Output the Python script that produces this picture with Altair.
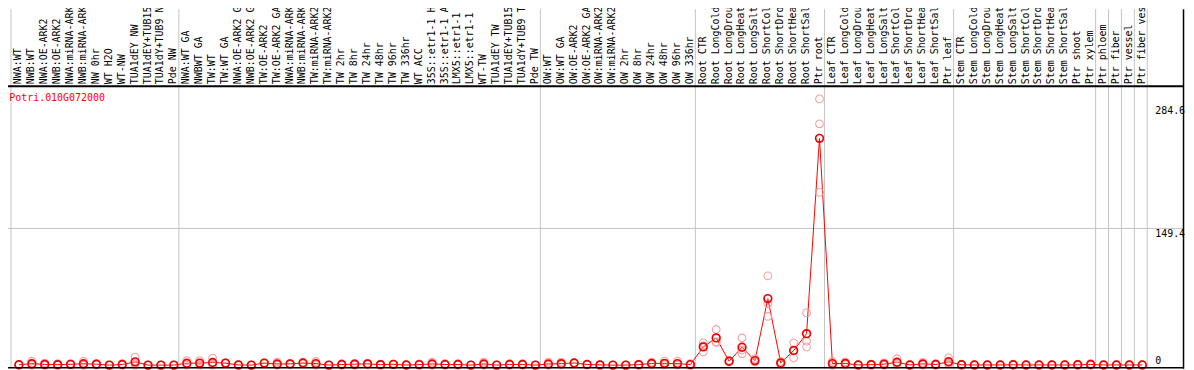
import altair as alt
import pandas as pd

gene = "Potri.010G072000"

labels = [
    "NWA:WT", "NWB:WT", "NWA:OE-ARK2", "NWB:OE-ARK2", "NWA:miRNA-ARK2", "NWB:miRNA-ARK2",
    "NW 0hr", "WT H2O", "WT-NW", "TUA1dEY NW", "TUA1dEY+TUB15 NW", "TUA1dY+TUB9 NW", "Pde NW",
    "NWA:WT GA", "NWBWT GA", "TW:WT", "TW:WT GA", "NWA:OE-ARK2 GA", "NWB:OE-ARK2 GA",
    "TW:OE-ARK2", "TW:OE-ARK2 GA", "NWA:miRNA-ARK2", "NWB:miRNA-ARK2", "TW:miRNA-ARK2",
    "TW:miRNA-ARK2", "TW 2hr", "TW 8hr", "TW 24hr", "TW 48hr", "TW 96hr", "TW 336hr", "WT ACC",
    "35S::etr1-1 H2O", "35S::etr1-1 ACC", "LMX5::etr1-1 H2O", "LMX5::etr1-1 ACC", "WT-TW",
    "TUA1dEY TW", "TUA1dEY+TUB15 TW", "TUA1dY+TUB9 TW", "Pde TW",
    "OW:WT", "OW:WT GA", "OW:OE-ARK2", "OW:OE-ARK2 GA", "OW:miRNA-ARK2", "OW:miRNA-ARK2",
    "OW 2hr", "OW 8hr", "OW 24hr", "OW 48hr", "OW 96hr", "OW 336hr",
    "Root CTR", "Root LongCold", "Root LongDrought", "Root LongHeat", "Root LongSalt",
    "Root ShortCold", "Root ShortDrought", "Root ShortHeat", "Root ShortSalt", "Ptr root",
    "Leaf CTR", "Leaf LongCold", "Leaf LongDrought", "Leaf LongHeat", "Leaf LongSalt",
    "Leaf ShortCold", "Leaf ShortDrought", "Leaf ShortHeat", "Leaf ShortSalt", "Ptr leaf",
    "Stem CTR", "Stem LongCold", "Stem LongDrought", "Stem LongHeat", "Stem LongSalt",
    "Stem ShortCold", "Stem ShortDrought", "Stem ShortHeat", "Stem ShortSalt", "Ptr shoot",
    "Ptr xylem", "Ptr phloem", "Ptr fiber", "Ptr vessel", "Ptr fiber vessel",
]

group_sizes = [13, 28, 12, 10, 10, 11, 1, 1, 1, 1]

rep1 = [
    0.7, 4.3, 2.2, 1.5, 1.5, 4.3, 1.5, 0.0, 1.5, 8.7, 0.0, 0.0, 0.0,
    5.0, 5.0, 7.6, 2.5, 0.5, 0.0, 2.5, 3.3, 1.5, 3.3, 4.0, 0.0, 1.5, 2.0,
    1.5, 1.0, 1.0, 0.3, 1.4, 3.3, 1.5, 1.5, 0.0, 3.3, 0.0, 1.5, 1.5, 0.0,
    3.3, 3.3, 2.5, 1.0, 0.5, 0.0, 0.0, 1.0, 3.3, 4.3, 4.3, 1.5,
    24.3, 38.9, 5.0, 29.7, 7.1, 97.6, 4.0, 24.3, 57.1, 291.0,
    4.0, 3.5, 0.5, 1.0, 2.5, 7.0, 0.5, 3.0, 1.5, 8.0,
    1.0, 0.5, 0.5, 0.5, 1.0, 0.5, 0.5, 0.5, 0.5, 1.0, 1.5,
    0.5, 0.5, 0.5, 0.5,
]
rep2 = [
    0.3, 0.5, 0.0, 0.0, 0.5, 0.0, 1.0, 0.0, 0.5, 2.0, 0.0, 0.0, 0.0,
    1.0, 1.5, 1.0, 2.0, 0.0, 0.0, 2.0, 0.5, 1.5, 2.0, 1.0, 0.0, 0.5, 1.0,
    1.5, 0.5, 1.0, 0.0, 0.3, 0.5, 0.5, 0.5, 0.0, 0.5, 0.0, 0.5, 0.5, 0.0,
    0.5, 1.0, 2.5, 0.5, 0.2, 0.0, 0.0, 0.5, 1.5, 1.0, 0.5, 0.2,
    21.0, 24.8, 4.0, 16.5, 4.0, 67.3, 2.4, 15.5, 26.1, 263.8,
    1.0, 1.5, 0.0, 0.5, 0.5, 2.0, 0.0, 1.0, 0.5, 2.0,
    0.0, 0.0, 0.0, 0.0, 0.0, 0.0, 0.0, 0.0, 0.0, 0.0, 0.5,
    0.0, 0.0, 0.0, 0.0,
]
rep3 = [
    0.0, 0.0, 0.0, 0.0, 0.5, 0.0, 0.5, 0.0, 0.0, 0.0, 0.0, 0.0, 0.0,
    0.0, 0.0, 0.0, 2.0, 0.0, 0.0, 2.0, 0.0, 1.0, 1.5, 0.0, 0.0, 0.0, 0.0,
    1.0, 0.0, 0.5, 0.0, 0.0, 0.0, 0.0, 0.0, 0.0, 0.0, 0.0, 0.0, 0.0, 0.0,
    0.0, 0.5, 2.0, 0.5, 0.0, 0.0, 0.0, 0.0, 0.5, 0.5, 0.2, 0.0,
    14.4, 25.4, 3.6, 12.3, 3.6, 53.2, 0.8, 7.9, 19.9, 188.9,
    0.0, 0.5, 0.0, 0.0, 0.0, 0.5, 0.0, 0.0, 0.0, 1.0,
    0.0, 0.0, 0.0, 0.0, 0.0, 0.0, 0.0, 0.0, 0.0, 0.0, 0.0,
    0.0, 0.0, 0.0, 0.0,
]

y_tick_values = [284.6, 149.4]
y_zero_value = [0]
grid_values = [149.4]

# ---- build tables ----
n = len(labels)
rows = []
for i in range(n):
    for r in (rep1, rep2, rep3):
        rows.append({"idx": i, "val": r[i]})
reps = pd.DataFrame(rows)
lab_df = pd.DataFrame({"idx": list(range(n)), "label": labels})

bounds = [0]
for s in group_sizes:
    bounds.append(bounds[-1] + s)
line_off = 8.0 / 13.0
bound_df = pd.DataFrame({"b": [b - line_off for b in bounds]})

W, H = 1186, 362
x_scale = alt.Scale(domain=[-11.0 / 13.0, 1175.0 / 13.0], nice=False, zero=False)
y_scale = alt.Scale(domain=[-4.02, 389.03], nice=False, zero=False)

X = alt.X("idx:Q", scale=x_scale, axis=None)
RED = "#ff0000"
PINK = "#f29a9a"
GRAY = "#c4c4c4"
FONT = "DejaVu Sans Mono"

base = alt.Chart(reps)

vlines = alt.Chart(bound_df).mark_rule(color=GRAY, strokeWidth=1).encode(
    x=alt.X("b:Q", scale=x_scale, axis=None),
    y=alt.value(0), y2=alt.value(H),
)

grid = alt.Chart(pd.DataFrame({"g": grid_values})).mark_rule(color=GRAY, strokeWidth=1).encode(
    y=alt.Y("g:Q", scale=y_scale, axis=None),
    x=alt.value(0), x2=alt.value(1183),
)

mean_line = base.mark_line(color=RED, strokeWidth=1).encode(
    x=X, y=alt.Y("mean(val):Q", scale=y_scale, axis=None)
)

rep_pts = base.mark_point(shape="circle", filled=False, size=60, strokeWidth=1.1,
                          color=PINK, opacity=0.9).encode(
    x=X, y=alt.Y("val:Q", scale=y_scale, axis=None)
)

mean_pts = base.mark_point(shape="circle", filled=False, size=60, strokeWidth=1.7,
                           color="#f00000", opacity=1).encode(
    x=X, y=alt.Y("mean(val):Q", scale=y_scale, axis=None)
)

col_labels = alt.Chart(lab_df).mark_text(
    angle=270, align="left", baseline="alphabetic", font=FONT, fontSize=10,
    color="black", dy=2.5,
).encode(x=X, y=alt.value(75.5), text="label:N")

gene_text = alt.Chart(pd.DataFrame({"t": [gene]})).mark_text(
    align="left", baseline="alphabetic", font=FONT, fontSize=10, color=RED,
).encode(x=alt.value(1.3), y=alt.value(92.7), text="t:N")

tick_text = alt.Chart(pd.DataFrame({"v": y_tick_values})).mark_text(
    align="left", baseline="top", font=FONT, fontSize=10, color="black", dy=1,
).encode(x=alt.value(1155), y=alt.Y("v:Q", scale=y_scale, axis=None),
         text=alt.Text("v:Q", format=".1f"))

zero_text = alt.Chart(pd.DataFrame({"v": y_zero_value})).mark_text(
    align="left", baseline="alphabetic", font=FONT, fontSize=10, color="black", dy=-0.8,
).encode(x=alt.value(1155), y=alt.Y("v:Q", scale=y_scale, axis=None),
         text=alt.Text("v:Q", format="d"))

sep = alt.Chart(pd.DataFrame({"k": [0]})).mark_rule(color="black", strokeWidth=2).encode(
    x=alt.value(0), x2=alt.value(1184), y=alt.value(77.5)
)
bottom = alt.Chart(pd.DataFrame({"k": [0]})).mark_rule(color="black", strokeWidth=1.5).encode(
    x=alt.value(0), x2=alt.value(1184), y=alt.value(361)
)
right = alt.Chart(pd.DataFrame({"k": [0]})).mark_rule(color="black", strokeWidth=1.5).encode(
    x=alt.value(1183.5), y=alt.value(0), y2=alt.value(H)
)

chart = alt.layer(
    vlines, grid, mean_line, rep_pts, mean_pts, col_labels, gene_text,
    tick_text, zero_text, sep, bottom, right,
).properties(
    width=W, height=H, padding=0,
    autosize=alt.AutoSizeParams(type="none"),
).configure_view(strokeWidth=0)

chart.save("out.html", embed_options={"renderer": "svg", "actions": False})
